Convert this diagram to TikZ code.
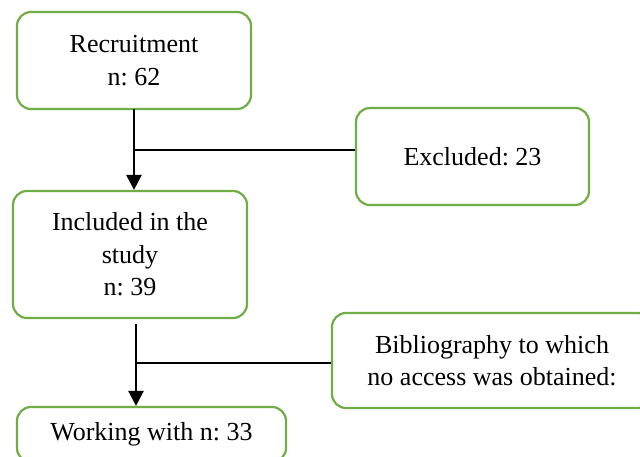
\documentclass[tikz,border=0pt]{standalone}
\usepackage{fontspec}
\setmainfont{Liberation Serif}
\usetikzlibrary{arrows.meta}
\definecolor{boxgreen}{RGB}{112,173,71}
\frenchspacing

\begin{document}
\begin{tikzpicture}[x=1pt, y=-1pt,
    box/.style={rectangle, draw=boxgreen, line width=2.2pt, rounded corners=14pt,
        align=center, inner sep=0pt, font=\fontsize{26}{32.5}\selectfont},
    flow/.style={line width=2.6pt, -{Triangle[length=15pt, width=15pt]}},
    link/.style={line width=2pt}]
            \useasboundingbox (0, 0) rectangle (640, 457);
            \clip (0, 0) rectangle (640, 457);

            \node[box, minimum width=234pt, minimum height=97pt] (recruit) at (134, 60.5) {Recruitment\\n: 62};
            \node[box, minimum width=233pt, minimum height=97pt] (excluded) at (472.5, 156.5) {Excluded: 23};
            \node[box, minimum width=234pt, minimum height=127pt] (included) at (130, 254.5) {Included in the\\study\\n: 39};
            \node[box, minimum width=320pt, minimum height=95pt] (biblio) at (492, 360.5) {Bibliography to which\\no access was obtained:};
            \node[box, minimum width=269pt, minimum height=55pt] (working) at (151.5, 434.5) {Working with n: 33};

            \coordinate (top1) at (134, 109);
            \coordinate (join1) at (134, 150);
            \coordinate (top2) at (136, 324);
            \coordinate (join2) at (136, 363);

            \draw[flow] (top1) -- (top1 |- included.north);
            \draw[link] (join1) -- (join1 -| excluded.west);
            % second step: the excluded references branch off the same way
            \draw[flow] (top2) -- (top2 |- working.north);
            \draw[link] (join2) -- (join2 -| biblio.west);
        \end{tikzpicture}
\end{document}
